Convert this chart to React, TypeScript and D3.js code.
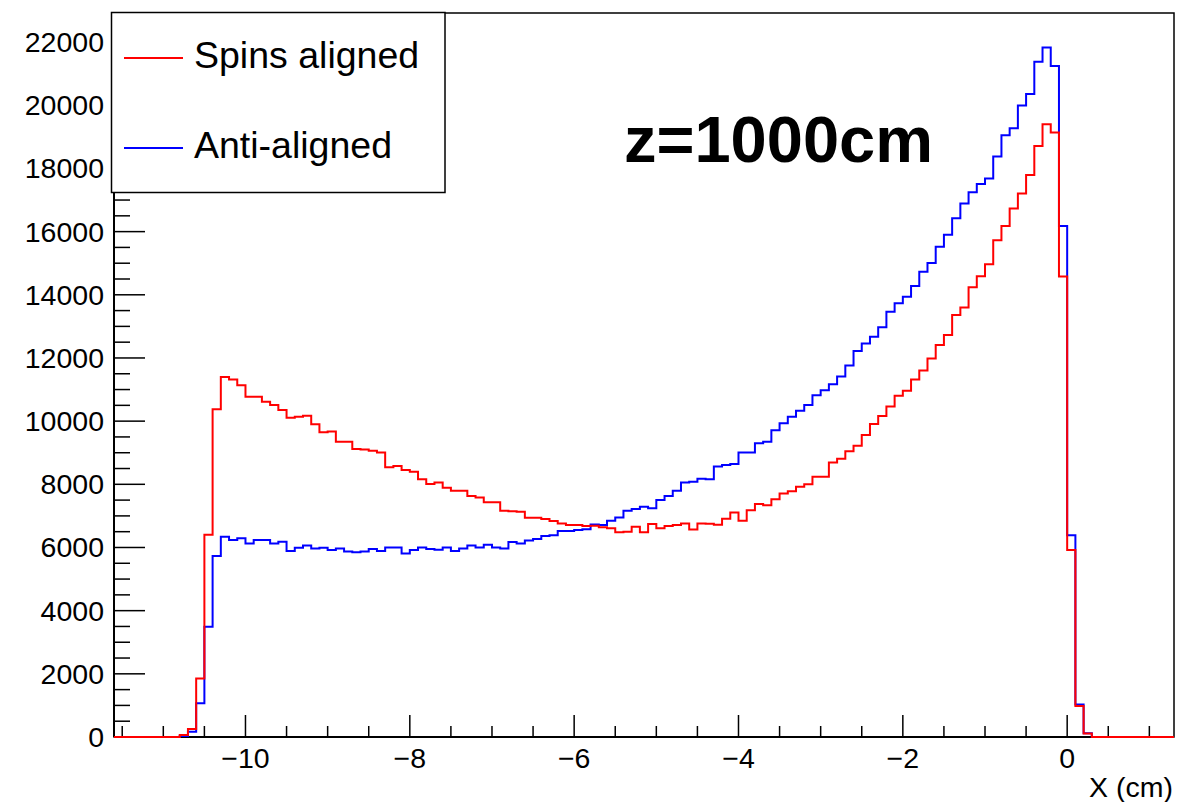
import * as d3 from 'd3'
import React from 'react'

// histogram binning (cm)
const xMin = -11.6
const xMax = 1.3
const binWidth = 0.1

// counts per 0.1 cm bin, first bin starts at xMin
const spinsAligned = [
  0, 0, 0, 0, 0, 0, 0, 0,
  60, 250, 1850, 6400, 10380, 11400, 11320, 11140, 10770, 10770,
  10610, 10510, 10350, 10110, 10140, 10170, 9900, 9650, 9670, 9350,
  9350, 9120, 9100, 9060, 9010, 8540, 8580, 8450, 8400, 8160,
  8010, 8060, 7890, 7800, 7800, 7630, 7580, 7430, 7430, 7160,
  7150, 7130, 6940, 6940, 6900, 6840, 6760, 6710, 6710, 6680,
  6690, 6640, 6610, 6480, 6500, 6660, 6480, 6740, 6610, 6680,
  6710, 6760, 6570, 6760, 6750, 6720, 6910, 7110, 6850, 7180,
  7380, 7340, 7530, 7710, 7780, 7920, 8000, 8240, 8240, 8690,
  8810, 9050, 9220, 9560, 9910, 10160, 10460, 10800, 10960, 11320,
  11600, 11980, 12410, 12730, 13360, 13600, 14240, 14590, 14970, 15730,
  16180, 16730, 17210, 17790, 18710, 19400, 19140, 14580, 5920, 980,
  110, 0, 0, 0, 0, 0, 0, 0, 0, 0, 0,
]

const antiAligned = [
  0, 0, 0, 0, 0, 0, 0, 0,
  30, 170, 1070, 3490, 5730, 6340, 6240, 6290, 6130, 6240,
  6240, 6130, 6180, 5890, 5990, 6060, 5970, 5990, 5920, 5970,
  5870, 5850, 5870, 5950, 5890, 6000, 6000, 5810, 5920, 6000,
  5950, 5930, 6000, 5890, 5970, 6060, 6000, 6090, 6000, 5970,
  6170, 6130, 6220, 6270, 6360, 6390, 6520, 6520, 6550, 6580,
  6730, 6710, 6850, 6950, 7160, 7220, 7290, 7240, 7500, 7630,
  7800, 8060, 8080, 8180, 8160, 8560, 8610, 8640, 9010, 9010,
  9300, 9350, 9710, 9930, 10140, 10330, 10510, 10820, 10980, 11170,
  11410, 11760, 12220, 12460, 12670, 12970, 13460, 13730, 13940, 14280,
  14730, 15010, 15520, 15900, 16420, 16890, 17250, 17510, 17680, 18380,
  19050, 19270, 19990, 20360, 21380, 21830, 21240, 16180, 6390, 1030,
  120, 0, 0, 0, 0, 0, 0, 0, 0, 0, 0,
]

const xMajorTicks = [-10, -8, -6, -4, -2, 0]
const yMajorTicks = [0, 2000, 4000, 6000, 8000, 10000, 12000, 14000, 16000, 18000, 20000, 22000]
const legendLabels = ['Spins aligned', 'Anti-aligned']
const xTitle = 'X (cm)'
const label = 'z=1000cm'

const W = 1204
const H = 802
const frame = { left: 114, right: 1174, top: 13, bottom: 737 }
const font = '"Liberation Sans", Arial, Helvetica, sans-serif'

const fmtTick = (v: number) => (v < 0 ? '\u2212' + Math.abs(v) : String(v))

export default function App() {
  const yMax = (d3.max([...spinsAligned, ...antiAligned]) as number) * 1.05
  const x = d3.scaleLinear().domain([xMin, xMax]).range([frame.left, frame.right])
  const y = d3.scaleLinear().domain([0, yMax]).range([frame.bottom, frame.top])

  const histPath = (counts: number[]) => {
    const pts = counts.map((c, i) => [xMin + i * binWidth, c] as [number, number])
    pts.push([xMin + counts.length * binWidth, counts[counts.length - 1]])
    return d3.line<[number, number]>()
      .x(d => x(d[0]))
      .y(d => y(d[1]))
      .curve(d3.curveStepAfter)(pts) as string
  }

  const xMinor = d3.range(-11.5, xMax, 0.5).filter(v => !xMajorTicks.some(m => Math.abs(m - v) < 1e-6))
  const yMinor = d3.range(0, yMax, 500).filter(v => v % 2000 !== 0)

  return (
    <svg width={W} height={H} style={{ position: 'absolute', left: 0, top: 0, background: '#fff' }} fontFamily={font}>
      <rect x={0} y={0} width={W} height={H} fill='#fff' />
      <rect x={frame.left} y={frame.top} width={frame.right - frame.left} height={frame.bottom - frame.top}
        fill='none' stroke='#000' strokeWidth={1.5} />

      {/* axes */}
      <line x1={frame.left} x2={frame.right} y1={frame.bottom} y2={frame.bottom} stroke='#000' strokeWidth={2} />
      <line x1={frame.left} x2={frame.left} y1={frame.top} y2={frame.bottom} stroke='#000' strokeWidth={2} />

      {xMajorTicks.map(v => (
        <g key={'xt' + v}>
          <line x1={x(v)} x2={x(v)} y1={frame.bottom} y2={frame.bottom - 22} stroke='#000' strokeWidth={1.5} />
          <text x={x(v)} y={768} fontSize={28.5} textAnchor='middle'>{fmtTick(v)}</text>
        </g>
      ))}
      {xMinor.map(v => (
        <line key={'xm' + v} x1={x(v)} x2={x(v)} y1={frame.bottom} y2={frame.bottom - 11} stroke='#000' strokeWidth={1.5} />
      ))}
      {yMajorTicks.map(v => (
        <g key={'yt' + v}>
          <line x1={frame.left} x2={frame.left + 31} y1={y(v)} y2={y(v)} stroke='#000' strokeWidth={1.5} />
          <text x={104} y={y(v)} dy='0.35em' fontSize={28.5} textAnchor='end'>{fmtTick(v)}</text>
        </g>
      ))}
      {yMinor.map(v => (
        <line key={'ym' + v} x1={frame.left} x2={frame.left + 16} y1={y(v)} y2={y(v)} stroke='#000' strokeWidth={1.5} />
      ))}

      <text x={1173} y={797} fontSize={28.5} textAnchor='end'>{xTitle}</text>

      {/* histograms */}
      <path d={histPath(antiAligned)} fill='none' stroke='#0000ff' strokeWidth={2} />
      <path d={histPath(spinsAligned)} fill='none' stroke='#ff0000' strokeWidth={2} />

      <text x={624} y={162} fontSize={65} fontWeight='bold'>{label}</text>

      {/* legend */}
      <rect x={111.5} y={12.5} width={333.5} height={180} fill='#fff' stroke='#000' strokeWidth={1.5} />
      {legendLabels.map((t, i) => (
        <g key={t}>
          <line x1={124} x2={183} y1={58 + i * 90} y2={58 + i * 90} stroke={i === 0 ? '#ff0000' : '#0000ff'} strokeWidth={2} />
          <text x={194} y={68 + i * 90} fontSize={37.5}>{t}</text>
        </g>
      ))}
    </svg>
  )
}
